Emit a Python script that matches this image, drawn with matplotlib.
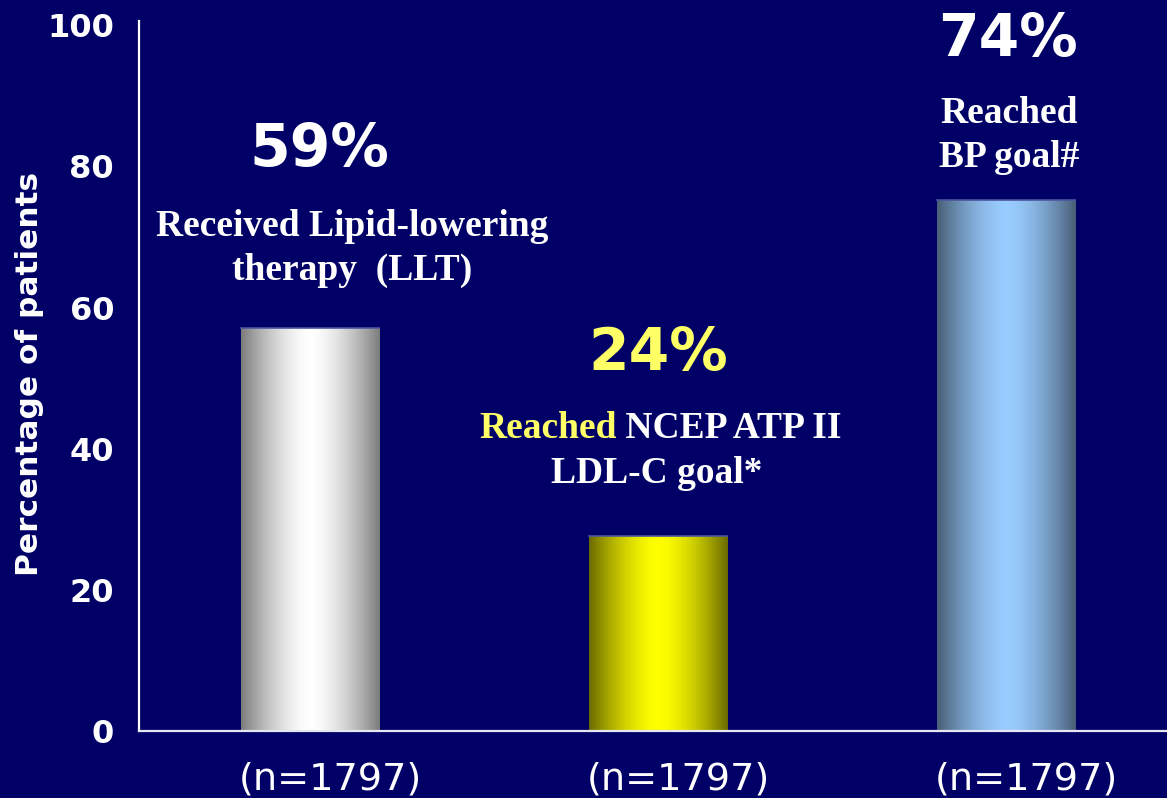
import numpy as np
import matplotlib
matplotlib.use("Agg")
import matplotlib.pyplot as plt
from matplotlib.colors import to_rgb

# ---- data ----
categories = ["LLT", "LDL-C goal", "BP goal"]
values = [57.1, 27.6, 75.2]
pct_labels = ["59%", "24%", "74%"]
n_labels = ["(n=1797)", "(n=1797)", "(n=1797)"]
yticks = [0, 20, 40, 60, 80, 100]
edge_colors = ["#7c7c7c", "#6a6a00", "#485e76"]
center_colors = ["#ffffff", "#ffff00", "#99ccff"]

BG = "#000066"
YEL = "#ffff66"

fig = plt.figure(figsize=(11.67, 7.98), dpi=100, facecolor=BG)
ax = fig.add_axes([139/1167, 67/798, 1028/1167, 710/798])
ax.set_facecolor(BG)

x = np.arange(len(categories))
width = 0.397
bars = ax.bar(x, values, width=width, color="none", edgecolor="none", zorder=2)

t = np.linspace(0, 1, 256)
prof = 1 - np.abs(2 * t - 1) ** 1.6
for b, ec, cc in zip(bars, edge_colors, center_colors):
    e = np.array(to_rgb(ec)); c = np.array(to_rgb(cc))
    img = e[None, :] + (c - e)[None, :] * prof[:, None]
    img = img[None, :, :]
    x0, y0 = b.get_x(), b.get_y()
    ax.imshow(img, extent=[x0, x0 + b.get_width(), y0, y0 + b.get_height()],
              aspect="auto", zorder=2, interpolation="bilinear")
    ax.plot([x0, x0 + b.get_width()], [y0 + b.get_height()] * 2, color="#4b55a0",
            lw=1.2, zorder=3)

ax.set_xlim(-171/348, (1167-310)/348)
ax.set_ylim(0, 100.6)

for s in ["top", "right"]:
    ax.spines[s].set_visible(False)
ax.spines["left"].set_color("white")
ax.spines["bottom"].set_color("#e6e6f2")
ax.spines["left"].set_linewidth(1.6)
ax.spines["bottom"].set_linewidth(1.6)

ax.set_xticks([])
ax.set_yticks(yticks)
ax.set_yticklabels([str(v) for v in yticks], fontsize=23, fontweight="bold",
                   color="white", family="DejaVu Sans")
ax.tick_params(axis="y", length=0, pad=18)

fig.text(30/1167, 1 - 374/798, "Percentage of patients", rotation=90,
         ha="center", va="center", fontsize=22.5, fontweight="bold", color="white",
         family="DejaVu Sans")

# n labels below axis
for i, lab in enumerate(n_labels):
    ax.annotate(lab, xy=(x[i], 0), xycoords=("data", "axes fraction"),
                xytext=(14.4, -42), textcoords="offset points",
                ha="center", va="baseline", fontsize=27.5, color="white",
                family="DejaVu Sans")

# percentage labels
pct_pos = [(0.026, 82.4), (0.0, 53.5), (0.006, 98.0)]
pct_colors = ["white", YEL, "white"]
for i, (lab, (dx, yy), col) in enumerate(zip(pct_labels, pct_pos, pct_colors)):
    ax.text(x[i] + dx, yy, lab, ha="center", va="center", fontsize=42,
            fontweight="bold", color=col, family="DejaVu Sans", zorder=4)

serif = dict(family="Liberation Serif", fontweight="bold", fontsize=27, va="baseline",
             ha="center", zorder=4)
# left label
ax.text(0 + 0.121, 70.1, "Received Lipid-lowering", color="white", **serif)
ax.text(0 + 0.121, 63.9, "therapy  (LLT)", color="white", **serif)
# right label
ax.text(2 + 0.009, 86.1, "Reached", color="white", **serif)
ax.text(2 + 0.009, 79.9, "BP goal#", color="white", **serif)
# middle label (two-colour line)
t1 = ax.text((479 - 310) / 348, 41.5, "Reached", color=YEL,
             **{**serif, "ha": "left"})
ax.annotate(" NCEP ATP II", xy=(1, 0), xycoords=t1, ha="left", va="bottom",
            color="white", family="Liberation Serif", fontweight="bold",
            fontsize=27, zorder=4)
ax.text(1 - 0.003, 35.1, "LDL-C goal*", color="white", **serif)

fig.savefig("out.png", dpi=100, facecolor=BG)
